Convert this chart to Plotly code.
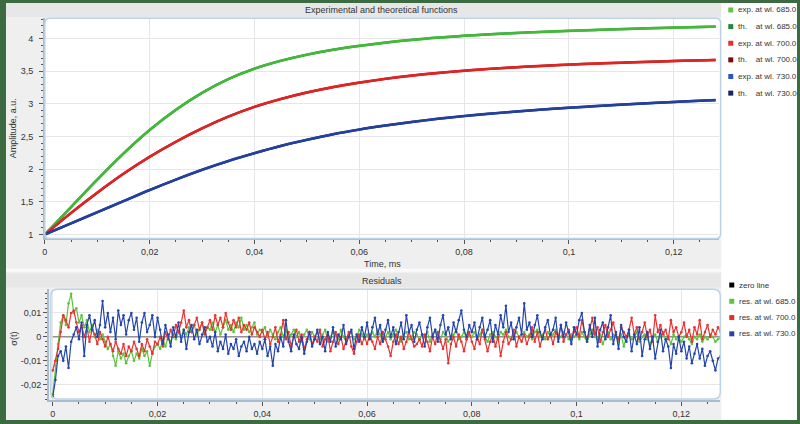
import numpy as np
import plotly.graph_objects as go

# ---------------- data ----------------
time_ms = [0.0, 0.005, 0.01, 0.015, 0.02, 0.025, 0.03, 0.035, 0.04, 0.045, 0.05, 0.055,
           0.06, 0.065, 0.07, 0.075, 0.08, 0.085, 0.09, 0.095, 0.1, 0.105, 0.11, 0.115,
           0.12, 0.125, 0.128]
exp_685 = [1.0, 1.42, 1.84, 2.24, 2.60, 2.91, 3.17, 3.38, 3.54, 3.66, 3.755, 3.83, 3.89,
           3.94, 3.982, 4.016, 4.044, 4.068, 4.088, 4.105, 4.12, 4.134, 4.147, 4.159,
           4.17, 4.18, 4.185]
exp_700 = [1.0, 1.33, 1.64, 1.93, 2.19, 2.42, 2.625, 2.805, 2.955, 3.075, 3.175, 3.258,
           3.327, 3.385, 3.434, 3.475, 3.509, 3.538, 3.563, 3.584, 3.602, 3.618, 3.632,
           3.645, 3.657, 3.668, 3.674]
exp_730 = [1.0, 1.17, 1.34, 1.51, 1.68, 1.84, 1.99, 2.125, 2.245, 2.355, 2.45, 2.535,
           2.607, 2.669, 2.724, 2.772, 2.814, 2.851, 2.884, 2.914, 2.941, 2.966, 2.989,
           3.01, 3.03, 3.049, 3.059]
th_685 = list(exp_685)
th_700 = list(exp_700)
th_730 = list(exp_730)

# residuals, in units of 1e-3, sampled every 0.0005 ms
res_step_ms = 0.0005
res_685_milli = [
    -24, -12, -3, 6, 9, 5, 14, 18, 10, 12, 6, 9, 4, 7, 2, 5, 0, 3, -1, 1,
    -2, -5, -3, -8, -12, -6, -9, -7, -11, -8, -6, -10, -7, -9, -5, -8, -6, -12, -7, -4,
    -3, -5, -1, -4, 0, -2, 1, -1, 2, 0, 3, 1, 4, 2, 5, 1, 3, 6, 2, 4,
    3, 6, 2, 5, 1, 4, 7, 3, 5, 2, 6, 4, 8, 3, 5, 2, 4, 6, 1, 3,
    2, 4, 0, 3, 1, -1, 2, 4, 0, 3, -1, 1, 3, 0, 2, -2, 1, 3, -1, 2,
    0, 2, -1, 1, 3, -2, 0, 2, 1, -1, 3, 0, -2, 1, 2, -1, 0, 3, 1, -1,
    1, -1, 2, 0, 3, 1, -2, 0, 2, -1, 1, 3, 0, -2, 1, 2, -1, 0, 2, 1,
    -1, 1, 0, 2, -2, 1, 3, 0, -1, 2, 1, -2, 0, 1, 3, -1, 0, 2, -1, 1,
    0, 2, -1, 1, 3, 0, -2, 1, 2, 0, -1, 2, 1, 3, 0, -1, 1, 2, 0, 1,
    2, 0, 1, -1, 2, 3, 0, 1, -1, 2, 0, 1, 3, -1, 0, 2, 1, -1, 1, 0,
    1, -1, 2, 0, -2, 1, 3, 0, -1, 1, -3, 0, 2, -1, 1, 0, -2, 1, -4, 0,
    1, -1, 0, 2, -2, 0, 1, -1, -3, 0, 1, -2, 0, 2, -1, 0, -3, 1, -1, 0,
    -2, 0, 1, -1, -3, 0, -1, 1, -2, 0, -1, 1, 0, -2, -1, 0]
res_700_milli = [
    -14, -10, -5, 2, 9, 7, 4, 10, 11, 6, 2, 5, 0, 4, -2, 3, 1, -3, 2, -1,
    -4, 0, -3, -6, -2, -5, -7, -3, -8, -4, -6, -2, -5, -8, -3, -6, -1, -4, -7, -2,
    -3, 0, -4, 2, -1, 3, 0, 5, 2, 6, 11, 4, 7, 2, 5, 8, 3, 6, 1, 4,
    7, 3, 9, 5, 8, 4, 10, 6, 3, 7, 4, 8, 2, 5, 3, 6, 1, 4, 2, 0,
    3, -1, 2, -3, 0, 4, -2, 1, 7, -1, 2, -4, 0, 3, -2, 1, -5, -1, 2, -3,
    0, -2, 3, -4, -1, 1, -6, -2, 2, -3, 0, -5, -1, 2, -4, -7, -2, 1, -3, 0,
    -3, 1, -2, -5, 0, -3, 2, -1, -4, -8, -2, 1, -3, 0, -5, -2, 2, -1, -4, -3,
    -1, -4, 1, -2, -6, 0, -3, 2, -2, -5, -1, -11, -3, 0, -4, 1, -2, -6, -1, 2,
    -2, -5, 0, -3, 3, -1, -6, -2, 1, -4, 0, -8, -2, 2, -3, -1, 3, -4, 0, -2,
    1, -3, 0, 4, -2, 2, -4, 0, 3, -1, 1, -3, 2, 0, 5, -2, 1, 3, -1, 2,
    4, 0, 7, 2, -1, 3, 8, 1, 4, -2, 2, 5, 0, 3, 6, 1, -1, 4, 2, 0,
    3, 8, 1, 4, -1, 2, 6, 0, 3, -2, 9, 2, 5, 1, 3, -1, 7, 2, 4, 0,
    2, 6, 0, 3, -2, 4, 1, 7, -1, 2, 5, 0, 3, 1, 4, 2]
res_730_milli = [
    -25, -18, -8, -6, -10, -4, -13, -2, 1, 4, -1, 6, -8, 5, 9, 3, 7, 0, 5, 15,
    4, 10, 2, 8, -1, 11, 5, 9, 1, 7, 10, 3, 8, -2, 6, 10, 2, 5, 9, 0,
    8, 3, -3, 5, 1, -4, 4, 0, 6, -2, 3, -5, 2, 5, -1, 3, -3, 1, 4, -2,
    0, -4, 2, -6, -2, -5, 1, -7, -3, -5, -1, -8, -4, -2, -6, 0, -5, -3, -7, -2,
    -5, -1, -8, -4, -12, -3, -6, 0, -4, 7, -2, -6, 1, -3, -5, 0, -7, -2, 2, -4,
    -1, 3, -3, 0, -6, 2, -2, 4, -4, 1, -1, 5, -3, 0, 3, -5, 1, -2, 4, 0,
    6, -1, 4, 8, 1, 5, -2, 3, 7, 0, 4, -3, 2, 6, -1, 9, 2, 5, -2, 3,
    6, 1, -4, 4, 8, 0, 3, -2, 5, 9, 1, 4, -1, 6, 2, 7, 11, 3, 0, 5,
    2, 6, -1, 4, 8, 0, 3, 7, -2, 5, 1, 9, 4, 13, 2, 6, -1, 4, 8, 1,
    14, 3, 6, 0, 5, 9, 2, -1, 4, 7, 1, 3, 8, -2, 5, 0, 6, 2, -3, 4,
    1, 7, 10, 2, -2, 5, 0, 8, -4, 3, 6, -1, 4, 9, -3, 2, -5, 5, 0, -2,
    3, -6, 1, -3, 4, -8, -1, 2, -5, 0, -9, -2, 3, -6, -1, -4, -13, -3, -7, 0,
    -6, -2, -9, -4, -11, -7, -3, -9, -5, -12, -8, -6, -10, -14, -9, -8]

x_ticks = [0, 0.02, 0.04, 0.06, 0.08, 0.1, 0.12]
x_ticktext = ["0", "0,02", "0,04", "0,06", "0,08", "0,1", "0,12"]
amp_ticks = [1, 1.5, 2, 2.5, 3, 3.5, 4]
amp_ticktext = ["1", "1,5", "2", "2,5", "3", "3,5", "4"]
res_ticks = [-0.02, -0.01, 0, 0.01]
res_ticktext = ["-0,02", "-0,01", "0", "0,01"]

top_legend_names = ["exp. at wl. 685.0", "th.\u00a0\u00a0\u00a0 at wl. 685.0",
                    "exp. at wl. 700.0", "th.\u00a0\u00a0\u00a0 at wl. 700.0",
                    "exp. at wl. 730.0", "th.\u00a0\u00a0\u00a0 at wl. 730.0"]
top_legend_colors = ["#62c446", "#1d8a3c", "#ec2c2c", "#7a0c0c", "#2b55c0", "#17246e"]
bot_legend_names = ["zero line", "res. at wl. 685.0", "res. at wl. 700.0", "res. at wl. 730.0"]
bot_legend_colors = ["#000000", "#5cc43c", "#ec2c2c", "#2445ad"]

# ---------------- figure ----------------
W, H = 800, 424
def X(px):
    return px / W
def Y(py):
    return 1 - py / H

FONT = "Liberation Sans, Arial, sans-serif"
TXT = "#333333"

fig = go.Figure()

line_col = {"685": "#45b83a", "700": "#e02424", "730": "#23409f"}
th_col = {"685": "#1d8a3c", "700": "#7a0c0c", "730": "#17246e"}
for key, th in (("685", th_685), ("700", th_700), ("730", th_730)):
    fig.add_trace(go.Scatter(x=time_ms, y=th, mode="lines", line_shape="spline",
                             line=dict(color=th_col[key], width=2.4),
                             xaxis="x", yaxis="y", hoverinfo="skip"))
for key, ex in (("685", exp_685), ("700", exp_700), ("730", exp_730)):
    fig.add_trace(go.Scatter(x=time_ms, y=ex, mode="lines", line_shape="spline",
                             line=dict(color=line_col[key], width=2.6),
                             xaxis="x", yaxis="y"))

res_len = max(len(res_685_milli), len(res_700_milli), len(res_730_milli))
zero_t = np.arange(res_len) * res_step_ms
fig.add_trace(go.Scatter(x=zero_t, y=np.zeros(res_len), mode="lines",
                         line=dict(color="#000000", width=0.6),
                         xaxis="x2", yaxis="y2"))
for vals, col in ((res_685_milli, "#5cc43c"), (res_700_milli, "#ee3030"),
                  (res_730_milli, "#2445ad")):
    v = np.array(vals, dtype=float) * 1e-3
    t = np.arange(len(v)) * res_step_ms
    fig.add_trace(go.Scatter(x=t, y=v, mode="lines+markers",
                             line=dict(color=col, width=1.2),
                             marker=dict(color=col, size=2.6),
                             xaxis="x2", yaxis="y2"))

axis_common = dict(showline=True, linecolor="#a8bccf", linewidth=1.5, mirror=False,
                   ticks="outside", ticklen=4, tickcolor="#555555", tickwidth=1,
                   showgrid=True, gridcolor="#e6e6e6", gridwidth=1, zeroline=False,
                   tickfont=dict(family=FONT, size=9, color=TXT))

top_x0, top_x1, top_y0, top_y1 = 42, 718.3, 18.3, 239
bot_x0, bot_x1, bot_y0, bot_y1 = 46, 720, 290, 401

fig.update_layout(
    width=W, height=H, autosize=False,
    margin=dict(l=0, r=0, t=0, b=0),
    paper_bgcolor="#3c6b42", plot_bgcolor="white",
    showlegend=False,
    xaxis=dict(axis_common, domain=[X(top_x0), X(top_x1)], range=[0, 0.12857],
               anchor="y", tickvals=x_ticks, ticktext=x_ticktext,
               minor=dict(tick0=0, dtick=0.005, ticks="outside", ticklen=2,
                          tickcolor="#555555", showgrid=False)),
    yaxis=dict(axis_common, domain=[Y(top_y1), Y(top_y0)], range=[0.939, 4.313],
               anchor="x", tickvals=amp_ticks, ticktext=amp_ticktext,
               ticklabelstandoff=4,
               minor=dict(tick0=0, dtick=0.1, ticks="outside", ticklen=2,
                          tickcolor="#555555", showgrid=False)),
    xaxis2=dict(axis_common, domain=[X(bot_x0), X(bot_x1)], range=[-0.00076, 0.12743],
                anchor="y2", tickvals=x_ticks, ticktext=x_ticktext,
                minor=dict(tick0=0, dtick=0.005, ticks="outside", ticklen=2,
                           tickcolor="#555555", showgrid=False)),
    yaxis2=dict(axis_common, domain=[Y(bot_y1), Y(bot_y0)], range=[-0.02638, 0.01988],
                anchor="x2", tickvals=res_ticks, ticktext=res_ticktext,
                minor=dict(tick0=0, dtick=0.002, ticks="outside", ticklen=2,
                           tickcolor="#555555", showgrid=False)),
)

def rrect(x0, y0, x1, y1, r):
    return (f"M {X(x0 + r)},{Y(y0)} L {X(x1 - r)},{Y(y0)} Q {X(x1)},{Y(y0)} {X(x1)},{Y(y0 + r)} "
            f"L {X(x1)},{Y(y1 - r)} Q {X(x1)},{Y(y1)} {X(x1 - r)},{Y(y1)} "
            f"L {X(x0 + r)},{Y(y1)} Q {X(x0)},{Y(y1)} {X(x0)},{Y(y1 - r)} "
            f"L {X(x0)},{Y(y0 + r)} Q {X(x0)},{Y(y0)} {X(x0 + r)},{Y(y0)} Z")

shapes = [
    dict(type="rect", xref="paper", yref="paper", x0=X(3), x1=X(797), y0=Y(421), y1=Y(3),
         fillcolor="#efefef", line=dict(width=0), layer="below"),
    dict(type="rect", xref="paper", yref="paper", x0=X(3), x1=X(721), y0=Y(17), y1=Y(3),
         fillcolor="#e7e7e7", line=dict(width=0), layer="below"),
    dict(type="rect", xref="paper", yref="paper", x0=X(3), x1=X(721), y0=Y(288), y1=Y(274),
         fillcolor="#e7e7e7", line=dict(width=0), layer="below"),
    dict(type="rect", xref="paper", yref="paper", x0=X(3), x1=X(721), y0=Y(272.5), y1=Y(269.5),
         fillcolor="#fbfbfb", line=dict(width=0), layer="below"),
    dict(type="rect", xref="paper", yref="paper", x0=X(721), x1=X(797), y0=Y(421), y1=Y(3),
         fillcolor="white", line=dict(width=0), layer="below"),
    dict(type="path", xref="paper", yref="paper", path=rrect(top_x0, top_y0, top_x1 + 2, top_y1, 5),
         fillcolor="white", line=dict(width=0), layer="below"),
    dict(type="path", xref="paper", yref="paper", path=rrect(bot_x0 + 2, bot_y0, bot_x1, bot_y1 - 1, 7),
         fillcolor="white", line=dict(width=0), layer="below"),
    dict(type="path", xref="paper", yref="paper", path=rrect(top_x0, top_y0, top_x1 + 2, top_y1, 5),
         line=dict(color="#bcd3e6", width=1.5), layer="above"),
    dict(type="path", xref="paper", yref="paper", path=rrect(bot_x0 + 2, bot_y0, bot_x1, bot_y1 - 1, 7),
         line=dict(color="#bcd3e6", width=1.5), layer="above"),
]

annotations = [
    dict(text="Experimental and theoretical functions", x=X(380), y=Y(10)),
    dict(text="Residuals", x=X(380), y=Y(281.5)),
    dict(text="Time, ms", x=X(381), y=Y(265)),
    dict(text="Amplitude, a.u.", x=X(9.5), y=Y(128), textangle=-90),
    dict(text="\u03c3(t)", x=X(11.5), y=Y(339), textangle=-90),
]
for a in annotations:
    a.update(xref="paper", yref="paper", showarrow=False, xanchor="center", yanchor="middle",
             font=dict(family=FONT, size=9, color=TXT))

def legend_block(names, colors, y_first, gap, sq_x, txt_x):
    for i, (nm, col) in enumerate(zip(names, colors)):
        yc = y_first + i * gap
        shapes.append(dict(type="rect", xref="paper", yref="paper",
                           x0=X(sq_x), x1=X(sq_x + 5), y0=Y(yc + 2.5), y1=Y(yc - 2.5),
                           fillcolor=col, line=dict(width=0), layer="above"))
        annotations.append(dict(text=nm, x=X(txt_x), y=Y(yc), xref="paper", yref="paper",
                                showarrow=False, xanchor="left", yanchor="middle",
                                font=dict(family=FONT, size=8, color=TXT)))

legend_block(top_legend_names, top_legend_colors, 10, 16.67, 728, 736)
legend_block(bot_legend_names, bot_legend_colors, 285.7, 16.3, 729, 737)

fig.update_layout(shapes=shapes, annotations=annotations)
fig.write_html("out.html")
